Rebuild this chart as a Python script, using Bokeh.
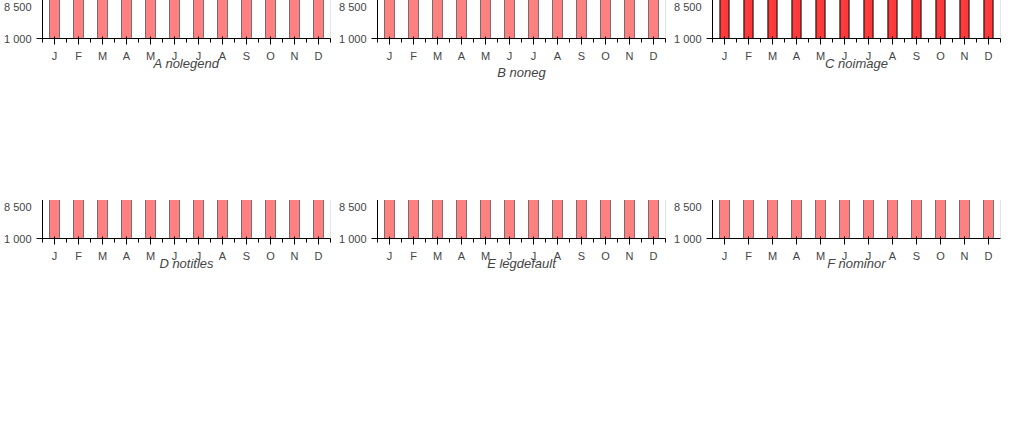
import numpy as np
from bokeh.plotting import figure
from bokeh.layouts import gridplot
from bokeh.models import Range1d, FixedTicker, LinearAxis, Legend, LegendItem, Title
from bokeh.embed import file_html
from bokeh.resources import INLINE

months = ["J", "F", "M", "A", "M", "J", "J", "A", "S", "O", "N", "D"]
quantity = [6130, 7310, 7460, 8450, 7460, 6370, 5780, 4940, 6560, 7480, 6230, 7220]
price = [6080, 7220, 7290, 8210, 7340, 6250, 5600, 4790, 6450, 7380, 6200, 7090]
y_ticks = [1000, 2500, 4000, 5500, 7000, 8500]
y_labels = ["1 000", "2 500", "4 000", "5 500", "7 000", "8 500"]
y_min, y_max = 1000, 9000
FONT = "Liberation Sans"
x = list(range(len(months)))
BAR_W = 0.38


def make(name, legend_on=True, neg=True, image=True, titles=True, legend_default=False, minor=True):
    p = figure(width=335, height=200, x_range=Range1d(-0.5, 11.5), y_range=Range1d(y_min, y_max),
               output_backend="svg", toolbar_location=None)
    p.xgrid.visible = False
    p.ygrid.visible = False
    r_fill = p.vbar(x=x, top=quantity, bottom=y_min, width=BAR_W, fill_color="#FF3A3A", line_color="black")
    if image:
        img = np.full((10, 10), 0xFF8080FF, dtype=np.uint32)
        p.image_rgba(image=[img] * 12, x=[i - BAR_W / 2 for i in x], y=[y_min] * 12,
                     dw=[BAR_W] * 12, dh=[q - y_min for q in quantity])
    r_line = p.line(x, price, line_color="blue", line_width=3)
    xa = p.xaxis[0]
    if minor:
        xa.ticker = FixedTicker(ticks=x, minor_ticks=[i - 0.5 for i in range(13)])
    else:
        xa.ticker = FixedTicker(ticks=x)
    xa.major_label_overrides = {i: m for i, m in enumerate(months)}
    xa.axis_label = name
    xa.axis_label_standoff = -9 if neg else 0
    p.yaxis[0].ticker = FixedTicker(ticks=y_ticks)
    p.yaxis[0].major_label_overrides = dict(zip(y_ticks, y_labels))
    if titles:
        p.add_layout(Title(text="sub", align="center", standoff=4), "above")
        p.add_layout(Title(text="main", align="center", standoff=0), "above")
    if legend_on:
        if legend_default:
            lg = Legend(items=[LegendItem(label="Q", renderers=[r_fill]), LegendItem(label="P", renderers=[r_line])],
                        orientation="horizontal")
        else:
            lg = Legend(items=[LegendItem(label="Q", renderers=[r_fill]), LegendItem(label="P", renderers=[r_line])],
                        orientation="horizontal", location="center", glyph_width=52, glyph_height=15,
                        spacing=46, label_standoff=3, padding=0, margin=4)
        p.add_layout(lg, "below")
    return p


figs = [make("A nolegend", legend_on=False), make("B noneg", neg=False), make("C noimage", image=False),
        make("D notitles", titles=False), make("E legdefault", legend_default=True), make("F nominor", minor=False)]
g = gridplot([figs[:3], figs[3:]], toolbar_location=None)
open("out.html", "w").write(file_html(g, INLINE))
